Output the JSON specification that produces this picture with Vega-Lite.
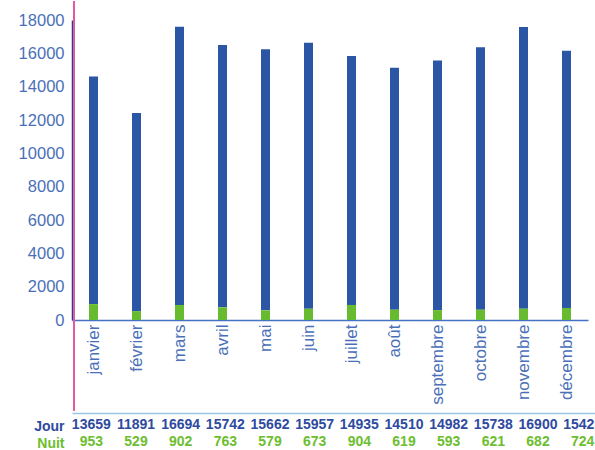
{
  "$schema": "https://vega.github.io/schema/vega-lite/v6.json",
  "padding": 0,
  "spacing": 1,
  "config": {"view": {"stroke": null}, "axis": {"grid": false}},
  "data": {"values": [
    {"month": "janvier", "series": "Jour", "value": 13659},
    {"month": "janvier", "series": "Nuit", "value": 953},
    {"month": "février", "series": "Jour", "value": 11891},
    {"month": "février", "series": "Nuit", "value": 529},
    {"month": "mars", "series": "Jour", "value": 16694},
    {"month": "mars", "series": "Nuit", "value": 902},
    {"month": "avril", "series": "Jour", "value": 15742},
    {"month": "avril", "series": "Nuit", "value": 763},
    {"month": "mai", "series": "Jour", "value": 15662},
    {"month": "mai", "series": "Nuit", "value": 579},
    {"month": "juin", "series": "Jour", "value": 15957},
    {"month": "juin", "series": "Nuit", "value": 673},
    {"month": "juillet", "series": "Jour", "value": 14935},
    {"month": "juillet", "series": "Nuit", "value": 904},
    {"month": "août", "series": "Jour", "value": 14510},
    {"month": "août", "series": "Nuit", "value": 619},
    {"month": "septembre", "series": "Jour", "value": 14982},
    {"month": "septembre", "series": "Nuit", "value": 593},
    {"month": "octobre", "series": "Jour", "value": 15738},
    {"month": "octobre", "series": "Nuit", "value": 621},
    {"month": "novembre", "series": "Jour", "value": 16900},
    {"month": "novembre", "series": "Nuit", "value": 682},
    {"month": "décembre", "series": "Jour", "value": 15425},
    {"month": "décembre", "series": "Nuit", "value": 724}
  ]},
  "vconcat": [
    {
      "width": 516,
      "height": 300,
      "encoding": {
        "y": {"type": "quantitative",
          "scale": {"domain": [0, 18000], "nice": false},
          "axis": {"title": null, "values": [0, 2000, 4000, 6000, 8000, 10000, 12000, 14000, 16000, 18000],
            "ticks": false, "labelPadding": 8, "minExtent": 72, "maxExtent": 72, "labelOverlap": false,
            "labelFlush": false,
            "domainColor": "#23418E", "domainWidth": 1.5,
            "labelFont": "Liberation Sans", "labelFontSize": 16.5, "labelColor": "#4A6FB8", "format": "d"}}
      },
      "layer": [
        {
          "mark": {"type": "bar", "size": 9},
          "encoding": {
            "x": {"field": "month", "type": "nominal", "sort": null,
              "scale": {"paddingInner": 0, "paddingOuter": 0},
              "axis": {"title": null, "labelAngle": -90, "labelPadding": 4, "ticks": false,
                "domainColor": "#4472C4", "domainWidth": 1.5,
                "labelFont": "Liberation Sans", "labelFontSize": 17, "labelColor": "#4A6FB8", "labelLimit": 0}},
            "y": {"field": "value", "type": "quantitative", "aggregate": "sum", "stack": "zero",
              "scale": {"domain": [0, 18000], "nice": false},
              "axis": {"title": null, "values": [0, 2000, 4000, 6000, 8000, 10000, 12000, 14000, 16000, 18000],
                "ticks": false, "labelPadding": 8, "minExtent": 72, "maxExtent": 72, "labelOverlap": false,
                "labelFlush": false,
                "domainColor": "#23418E", "domainWidth": 1.5,
                "labelFont": "Liberation Sans", "labelFontSize": 16.5, "labelColor": "#4A6FB8", "format": "d"}},
            "color": {"field": "series", "type": "nominal",
              "scale": {"domain": ["Jour", "Nuit"], "range": ["#2B55A5", "#66BB2E"]}, "legend": null},
            "order": {"field": "series", "sort": "descending"}
          }
        },
        {
          "mark": {"type": "rule", "color": "#E75A9E", "strokeWidth": 1.5, "clip": false, "xOffset": 2},
          "encoding": {
            "x": {"datum": "janvier", "bandPosition": 0,
              "axis": {"title": null, "labelAngle": -90, "labelPadding": 4, "ticks": false,
                "domainColor": "#4472C4", "domainWidth": 1.5,
                "labelFont": "Liberation Sans", "labelFontSize": 17, "labelColor": "#4A6FB8", "labelLimit": 0}},
            "y": {"datum": 19100, "type": "quantitative",
              "scale": {"domain": [0, 18000], "nice": false},
              "axis": {"title": null, "values": [0, 2000, 4000, 6000, 8000, 10000, 12000, 14000, 16000, 18000],
                "ticks": false, "labelPadding": 8, "minExtent": 72, "maxExtent": 72, "labelOverlap": false,
                "labelFlush": false,
                "domainColor": "#23418E", "domainWidth": 1.5,
                "labelFont": "Liberation Sans", "labelFontSize": 16.5, "labelColor": "#4A6FB8", "format": "d"}},
            "y2": {"datum": -5450}
          }
        }
      ]
    },
    {
      "width": 536,
      "height": 38,
      "mark": {"type": "text", "dx": -3, "dy": -1, "font": "Liberation Sans", "fontSize": 14, "fontWeight": "bold"},
      "encoding": {
        "x": {"field": "month", "type": "nominal", "sort": null,
          "scale": {"paddingInner": 0, "paddingOuter": 0},
          "axis": {"orient": "top", "title": null, "labels": false, "ticks": false,
            "domainColor": "#9DC3E6", "domainWidth": 1.5}},
        "y": {"field": "series", "type": "nominal",
          "scale": {"type": "point", "domain": ["Jour", "Nuit"], "padding": 0.618, "align": 0.62},
          "axis": {"title": null, "ticks": false, "domain": false, "labelPadding": 8,
            "minExtent": 72, "maxExtent": 72,
            "labelFont": "Liberation Sans", "labelFontSize": 14, "labelFontWeight": "bold",
            "labelColor": {"condition": {"test": "datum.value === 'Jour'", "value": "#2E4A9E"}, "value": "#6DBE30"}}},
        "text": {"field": "value", "type": "quantitative", "format": "d"},
        "color": {"field": "series", "type": "nominal",
          "scale": {"domain": ["Jour", "Nuit"], "range": ["#2E4A9E", "#6DBE30"]}, "legend": null}
      }
    }
  ],
  "resolve": {"scale": {"x": "independent", "y": "independent", "color": "independent"}}
}
